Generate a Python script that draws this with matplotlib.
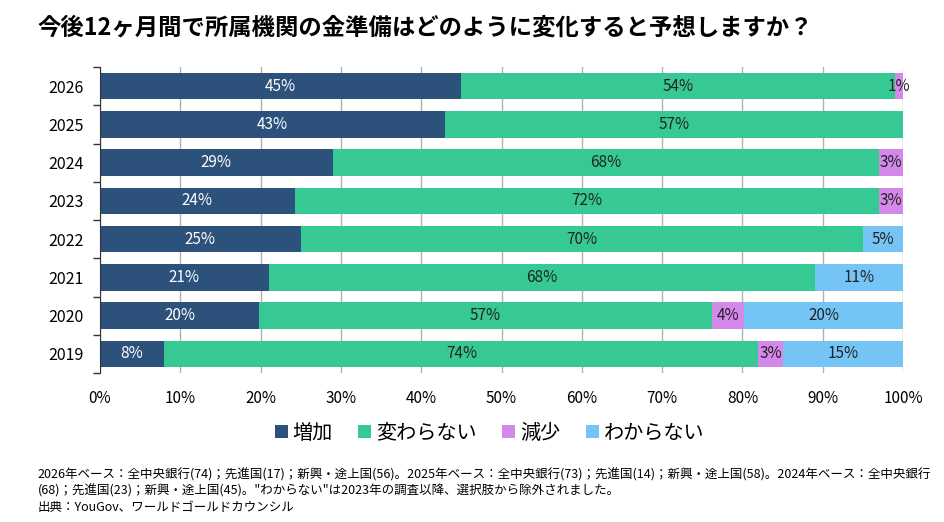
import matplotlib
matplotlib.use('Agg')
import matplotlib.pyplot as plt
from matplotlib.patches import Patch
import numpy as np

plt.rcParams['font.family'] = ['Noto Sans CJK JP', 'DejaVu Sans']

# データ（各年の回答割合 %）
years = ['2026', '2025', '2024', '2023', '2022', '2021', '2020', '2019']
increase = [45, 43, 29, 24, 25, 21, 20, 8]
no_change = [54, 57, 68, 72, 70, 68, 57, 74]
decrease = [1, 0, 3, 3, 0, 0, 4, 3]
dont_know = [0, 0, 0, 0, 5, 11, 20, 15]

series_names = ['増加', '変わらない', '減少', 'わからない']
colors = ['#2c527c', '#36c994', '#d489ea', '#74c5f6']
text_colors = ['white', '#222222', '#222222', '#222222']

title = '今後12ヶ月間で所属機関の金準備はどのように変化すると予想しますか？'
footnote = ('2026年ベース：全中央銀行(74)；先進国(17)；新興・途上国(56)。2025年ベース：全中央銀行(73)；先進国(14)；新興・途上国(58)。2024年ベース：全中央銀行\n'
            '(68)；先進国(23)；新興・途上国(45)。"わからない"は2023年の調査以降、選択肢から除外されました。\n'
            '出典：YouGov、ワールドゴールドカウンシル')

fig = plt.figure(figsize=(9.45, 5.22), dpi=100)
ax = fig.add_axes([0.1058, 0.2854, 0.8498, 0.5862])

data = np.array([increase, no_change, decrease, dont_know], dtype=float)
# 元グラフは各年の合計を100%に揃えて描いている
data = data / data.sum(axis=0) * 100
raw = np.array([increase, no_change, decrease, dont_know])

y = np.arange(len(years))
left = np.zeros(len(years))
for i in range(4):
    ax.barh(y, data[i], left=left, height=0.69, color=colors[i], zorder=3)
    for j in range(len(years)):
        if raw[i, j] > 0:
            ax.text(left[j] + data[i, j] / 2, y[j], f'{raw[i, j]}%',
                    ha='center', va='center', fontsize=11,
                    color=text_colors[i], zorder=4)
    left += data[i]

ax.set_xlim(0, 100)
ax.set_ylim(len(years) - 0.5, -0.5)
ax.set_xticks(np.arange(0, 101, 10))
ax.set_xticklabels([f'{v}%' for v in range(0, 101, 10)], fontsize=11)
ax.tick_params(axis='x', length=0, pad=12)
ax.set_yticks(y)
ax.set_yticklabels(years, fontsize=11.5)
ax.tick_params(axis='y', which='major', length=0, pad=12)
# カテゴリ境界の目盛り
ax.set_yticks(np.arange(-0.5, len(years)), minor=True)
ax.tick_params(axis='y', which='minor', length=5, width=1, color='#333333')

ax.grid(axis='x', color='#b0b0b0', linewidth=1, zorder=0)
for s in ['top', 'right', 'bottom']:
    ax.spines[s].set_visible(False)
ax.spines['left'].set_color('#333333')
ax.spines['left'].set_zorder(5)

fig.text(0.040, 0.948, title, fontsize=16.8, fontweight='bold', va='center', ha='left')

handles = [Patch(facecolor=c, edgecolor='none') for c in colors]
fig.legend(handles, series_names, loc='center', bbox_to_anchor=(0.518, 0.17), ncol=4,
           frameon=False, fontsize=14.5, handlelength=0.65, handleheight=0.65,
           handletextpad=0.25, columnspacing=1.25)

fig.text(0.040, 0.103, footnote, fontsize=9, va='top', ha='left', linespacing=1.3)

fig.savefig('out.png', dpi=100)
